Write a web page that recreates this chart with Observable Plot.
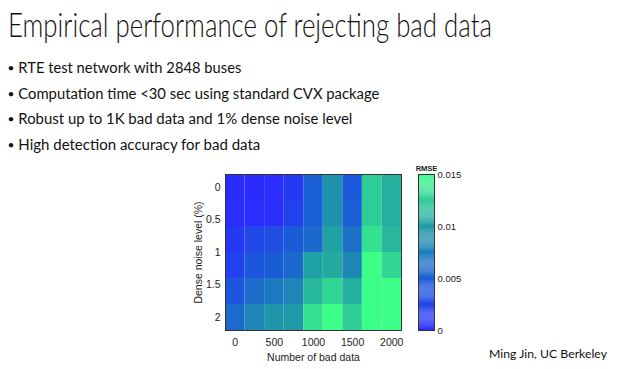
<!DOCTYPE html>
<html><head><meta charset="utf-8">
<script src="https://cdn.jsdelivr.net/npm/d3@7"></script>
<script src="https://cdn.jsdelivr.net/npm/@observablehq/plot@0.6"></script>
<style>
html,body{margin:0;padding:0;background:#fff;}
#slide{position:relative;width:627px;height:369px;overflow:hidden;}
#slide > svg{position:absolute;left:0;top:0;}
</style></head><body><div id="slide"></div>
<script>
// ---- data ----
const badData = [0, 250, 500, 750, 1000, 1250, 1500, 1750, 2000];
const noiseLevels = [0, 0.4, 0.8, 1.2, 1.6, 2.0];
const rmse = [
  [0.0001, 0.0002, 0.0003, 0.0014, 0.0053, 0.0092, 0.0046, 0.0125, 0.0110],
  [0.0003, 0.0003, 0.0004, 0.0025, 0.0053, 0.0092, 0.0052, 0.0125, 0.0110],
  [0.0014, 0.0030, 0.0037, 0.0049, 0.0060, 0.0103, 0.0066, 0.0135, 0.0114],
  [0.0022, 0.0044, 0.0049, 0.0060, 0.0103, 0.0107, 0.0084, 0.0150, 0.0130],
  [0.0044, 0.0062, 0.0072, 0.0083, 0.0114, 0.0130, 0.0110, 0.0150, 0.0150],
  [0.0061, 0.0083, 0.0095, 0.0098, 0.0135, 0.0150, 0.0126, 0.0150, 0.0150]
];
const xTicks = [0, 500, 1000, 1500, 2000];
const yTicks = [0, 0.5, 1, 1.5, 2];
const cbarTicks = [0, 0.005, 0.01, 0.015];
const titleText = "Empirical performance of rejecting bad data";
const bullets = [
  "RTE test network with 2848 buses",
  "Computation time <30 sec using standard CVX package",
  "Robust up to 1K bad data and 1% dense noise level",
  "High detection accuracy for bad data"
];
const footerText = "Ming Jin, UC Berkeley";
const xLabel = "Number of bad data";
const yLabel = "Dense noise level (%)";
const cbarLabel = "RMSE";

// ---- build tables ----
const cells = [];
noiseLevels.forEach((y, i) => badData.forEach((x, j) =>
  cells.push({x1: x - 125, x2: x + 125, y1: y - 0.2, y2: y + 0.2, v: rmse[i][j]})));
const bands = d3.range(150).map(i => ({y1: i * 0.0001, y2: (i + 1) * 0.0001, v: (i + 0.5) * 0.0001}));

const ramp = d3.scaleLinear().domain([0, 0.33, 0.67, 1])
  .range(["#2a2aff", "#1a5cd8", "#1f9ca4", "#3cff88"]).interpolate(d3.interpolateRgb).clamp(true);
const colorOpts = {type: "linear", domain: [0, 0.015], interpolate: (t) => ramp(t)};

const slide = document.getElementById("slide");
const font = "'Liberation Sans', Arial, sans-serif";

const main = Plot.plot({
  width: 627, height: 369,
  marginLeft: 225, marginRight: 226, marginTop: 174, marginBottom: 39,
  style: {fontFamily: font, fontSize: "10.5px", color: "#222", background: "transparent"},
  x: {domain: [-125, 2125]},
  y: {domain: [-0.2, 2.2], reverse: true},
  color: colorOpts,
  marks: [
    Plot.rect(cells, {x1: "x1", x2: "x2", y1: "y1", y2: "y2", fill: "v"}),
    Plot.frame({stroke: "#333", strokeWidth: 1}),
    Plot.axisX(xTicks, {tickSize: 0, tickPadding: 8, fontSize: 10.5, tickFormat: d => String(d), label: xLabel, labelAnchor: "center", labelArrow: "none", labelOffset: 30}),
    Plot.axisY(yTicks, {tickSize: 0, tickPadding: 5, fontSize: 10.5, tickFormat: d => String(d), label: yLabel, labelAnchor: "center", labelArrow: "none", labelOffset: 31})
  ]
});
slide.appendChild(main);

const cbar = Plot.plot({
  width: 627, height: 369,
  marginLeft: 418, marginRight: 193, marginTop: 174, marginBottom: 39,
  style: {fontFamily: font, fontSize: "9.5px", color: "#222", background: "transparent"},
  y: {domain: [0, 0.015]},
  color: colorOpts,
  marks: [
    Plot.rect(bands, {y1: "y1", y2: "y2", fill: "v"}),
    Plot.frame({stroke: "#333", strokeWidth: 1}),
    Plot.axisY(cbarTicks, {anchor: "right", tickSize: 0, tickPadding: 3, fontSize: 9.5, tickFormat: d => String(d), label: null}),
    Plot.text([cbarLabel], {frameAnchor: "top", dy: -9, fontSize: 7.5, fontWeight: 600, fill: "#222"})
  ]
});
slide.appendChild(cbar);

// ---- slide text ----
const svg = d3.select(slide).append("svg").attr("width", 627).attr("height", 369)
  .style("font-family", "Lato, 'Open Sans', sans-serif");
svg.append("text").attr("x", 8).attr("y", 37).attr("font-size", 33).attr("font-weight", 300)
  .attr("fill", "#111").attr("textLength", 484).attr("lengthAdjust", "spacingAndGlyphs").text(titleText);
const baselines = [72.7, 98.5, 124, 150];
const widths = [223, 361, 334, 242];
bullets.forEach((b, i) => {
  svg.append("text").attr("x", 7.5).attr("y", baselines[i] - 1).attr("font-size", 12).attr("fill", "#111").text("•");
  svg.append("text").attr("x", 18.3).attr("y", baselines[i]).attr("font-size", 15.5).attr("fill", "#111")
    .attr("textLength", widths[i]).attr("lengthAdjust", "spacingAndGlyphs").text(b);
});
svg.append("text").attr("x", 489).attr("y", 358).attr("font-size", 10.5).attr("fill", "#111")
  .attr("textLength", 118).attr("lengthAdjust", "spacingAndGlyphs").text(footerText);
</script></body></html>
